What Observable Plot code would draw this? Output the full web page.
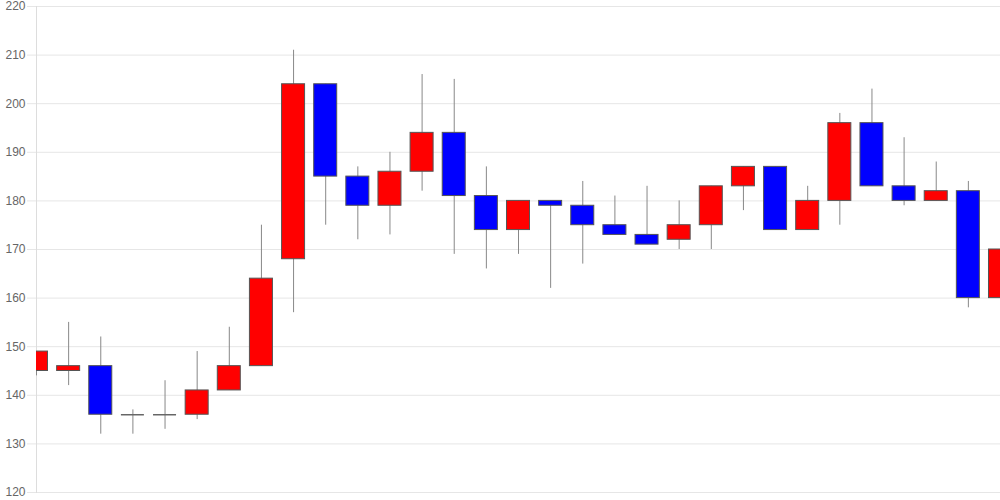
<!DOCTYPE html>
<html>
<head>
<meta charset="utf-8">
<script src="https://cdn.jsdelivr.net/npm/d3@7"></script>
<script src="https://cdn.jsdelivr.net/npm/@observablehq/plot@0.6"></script>
<style>
  html, body { margin: 0; padding: 0; background: #fff; }
  #chart svg { display: block; }
</style>
</head>
<body>
<div id="chart"></div>
<script>
const opens  = [145,145,146,136,136,136,141,146,168,204,185,179,186,194,181,174,180,179,175,173,172,175,183,187,174,180,196,183,180,182,160];
const closes = [149,146,136,136,136,141,146,164,204,185,179,186,194,181,174,180,179,175,173,171,175,183,187,174,180,196,183,180,182,160,170];
const highs  = [149,155,152,137,143,149,154,175,211,204,187,190,206,205,187,180,180,184,181,183,180,183,187,187,183,198,203,193,188,184,170];
const lows   = [144,142,132,132,133,135,141,146,157,175,172,173,182,169,166,169,162,167,173,171,170,170,178,174,174,175,183,179,180,158,157];
const yTicks = [120,130,140,150,160,170,180,190,200,210,220];

const data = opens.map((o, i) => ({
  i, open: o, close: closes[i], high: highs[i], low: lows[i],
  up: closes[i] >= o
}));
const half = 0.358; // half body width in index units
const dojis = data.filter(d => d.open === d.close);
const bodies = data.filter(d => d.open !== d.close);

const chart = Plot.plot({
  width: 1000,
  height: 500,
  marginLeft: 36,
  marginRight: 0,
  marginTop: 6,
  marginBottom: 8,
  style: { fontFamily: "Liberation Sans, Arial, sans-serif", fontSize: "12px", background: "#fff" },
  x: { domain: [0, opens.length - 1], axis: null },
  y: { domain: [120, 220], ticks: yTicks, axis: null },
  marks: [
    Plot.gridY(yTicks, { stroke: "#e6e6e6", strokeOpacity: 1 }),
    Plot.axisY(yTicks, { tickSize: 9, stroke: "#e6e6e6", strokeOpacity: 1, text: null }),
    Plot.axisY(yTicks, { tickSize: 0, tickPadding: 11, fill: "#666", tickFormat: d => String(d) }),
    Plot.frame({ anchor: "left", stroke: "#dddddd" }),
    Plot.ruleX(data, { x: "i", y1: "low", y2: "high", stroke: "#888", strokeWidth: 1, clip: true }),
    Plot.rect(bodies, {
      x1: d => d.i - half, x2: d => d.i + half, y1: "open", y2: "close",
      fill: d => d.up ? "#ff0000" : "#0000ff",
      stroke: "#555", strokeWidth: 1, clip: true
    }),
    Plot.ruleY(dojis, {
      x1: d => d.i - half, x2: d => d.i + half, y: "open",
      stroke: "#666", strokeWidth: 1.5, clip: true
    })
  ]
});
document.getElementById("chart").appendChild(chart);
</script>
</body>
</html>
